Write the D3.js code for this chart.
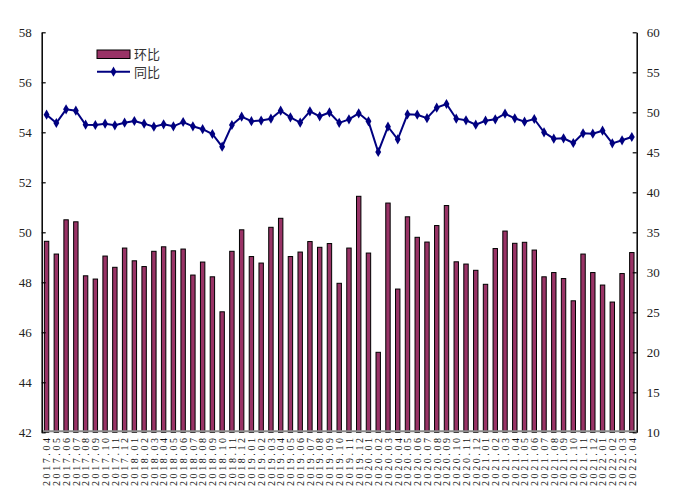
<!DOCTYPE html>
<html><head><meta charset="utf-8">
<script src="https://cdn.jsdelivr.net/npm/d3@7/dist/d3.min.js"></script>
<style>body{margin:0;background:#fff}svg{display:block}</style>
</head><body>
<svg id="c" width="682" height="501"></svg>
<script>
const months = [];
(function(){ let y=2017,m=4; for(let i=0;i<61;i++){ months.push(y+"."+(m<10?"0":"")+m); m++; if(m>12){m=1;y++;} } })();
const huanbi = [49.64,49.13,50.50,50.42,48.26,48.13,49.05,48.60,49.37,48.86,48.63,49.24,49.42,49.26,49.33,
48.29,48.81,48.22,46.82,49.24,50.10,49.03,48.77,50.20,50.56,49.03,49.21,49.63,49.40,49.55,
47.96,49.37,51.44,49.17,45.20,51.17,47.73,50.62,49.80,49.61,50.27,51.07,48.82,48.73,48.48,
47.92,49.35,50.05,49.56,49.60,49.29,48.22,48.39,48.15,47.26,49.13,48.39,47.89,47.21,48.35,49.19];
const tongbi = [49.70,48.66,50.37,50.20,48.45,48.41,48.58,48.37,48.70,48.91,48.58,48.20,48.50,48.25,48.79,
48.25,47.89,47.29,45.70,48.41,49.45,48.89,48.97,49.20,50.20,49.37,48.72,50.12,49.50,49.98,
48.68,49.12,49.87,48.87,45.04,48.20,46.62,49.75,49.70,49.27,50.58,51.04,49.20,49.00,48.45,
48.95,49.12,49.83,49.25,48.83,49.16,47.50,46.70,46.75,46.16,47.37,47.33,47.70,46.12,46.50,46.91];
const leftTicks = [42,44,46,48,50,52,54,56,58];
const rightTicks = [10,15,20,25,30,35,40,45,50,55,60];
const legendLabels = ["环比","同比"];

const svg = d3.select("#c");
const L=41.7, R=636.7, T=32.3, B=432.3;
const x = d3.scaleBand().domain(months).range([L,R]);
const yL = d3.scaleLinear().domain([42,58]).range([B,T]);
const yR = d3.scaleLinear().domain([10,60]).range([B,T]);
const serif = "'Liberation Serif','Times New Roman',serif";

// bars
const bw = 4.4;
svg.append("g").selectAll("rect").data(huanbi).join("rect")
  .attr("x",(d,i)=>x(months[i])+x.bandwidth()/2-bw/2)
  .attr("y",d=>yL(d))
  .attr("width",bw)
  .attr("height",d=>B-yL(d))
  .attr("fill","#993366").attr("stroke","#000").attr("stroke-width",1);

// bottom axis line
svg.append("line").attr("x1",L).attr("x2",R).attr("y1",B-1).attr("y2",B-1)
  .attr("stroke","#8c8c8c").attr("stroke-width",2);

// left axis
const gl = svg.append("g").attr("transform",`translate(${L},0)`)
  .call(d3.axisLeft(yL).tickValues(leftTicks).tickSizeInner(-4).tickSizeOuter(0).tickPadding(10));
gl.select(".domain").attr("stroke","#000").attr("stroke-width",1.5);
gl.selectAll(".tick line").attr("stroke","#000").attr("stroke-width",1.2);
gl.selectAll("text").attr("font-family",serif).attr("font-size",13).attr("fill","#222");

// right axis
const gr = svg.append("g").attr("transform",`translate(${R},0)`)
  .call(d3.axisRight(yR).tickValues(rightTicks).tickSizeInner(-4).tickSizeOuter(0).tickPadding(10));
gr.select(".domain").attr("stroke","#000").attr("stroke-width",1.5);
gr.selectAll(".tick line").attr("stroke","#000").attr("stroke-width",1.2);
gr.selectAll("text").attr("font-family",serif).attr("font-size",13).attr("fill","#222");

// x labels
svg.append("g").selectAll("text").data(months).join("text")
  .attr("transform",d=>`translate(${x(d)+x.bandwidth()/2+3.8},${438}) rotate(-90)`)
  .attr("text-anchor","end")
  .attr("font-family",serif).attr("font-size",10).attr("fill","#111")
  .attr("textLength",48).attr("lengthAdjust","spacing")
  .text(d=>d);

// line
const line = d3.line().x((d,i)=>x(months[i])+x.bandwidth()/2).y(d=>yR(d));
svg.append("path").datum(tongbi).attr("d",line)
  .attr("fill","none").attr("stroke","#000080").attr("stroke-width",2);
const diamond = d3.symbol().type(d3.symbolDiamond).size(30);
svg.append("g").selectAll("path").data(tongbi).join("path")
  .attr("transform",(d,i)=>`translate(${x(months[i])+x.bandwidth()/2},${yR(d)})`)
  .attr("d",diamond).attr("fill","#000080");

// legend
const lg = svg.append("g");
lg.append("rect").attr("x",97).attr("y",50).attr("width",33).attr("height",8.5)
  .attr("fill","#993366").attr("stroke","#000").attr("stroke-width",1);
lg.append("line").attr("x1",97).attr("x2",130).attr("y1",71.7).attr("y2",71.7)
  .attr("stroke","#000080").attr("stroke-width",2);
lg.append("path").attr("transform","translate(113.5,71.7)").attr("d",diamond).attr("fill","#000080");
lg.selectAll("text").data(legendLabels).join("text")
  .attr("x",134).attr("y",(d,i)=>54.5+i*17.5).attr("dy","0.35em")
  .attr("font-family","'Noto Sans CJK SC',sans-serif").attr("font-size",13).attr("fill","#333")
  .text(d=>d);
</script>
</body></html>
